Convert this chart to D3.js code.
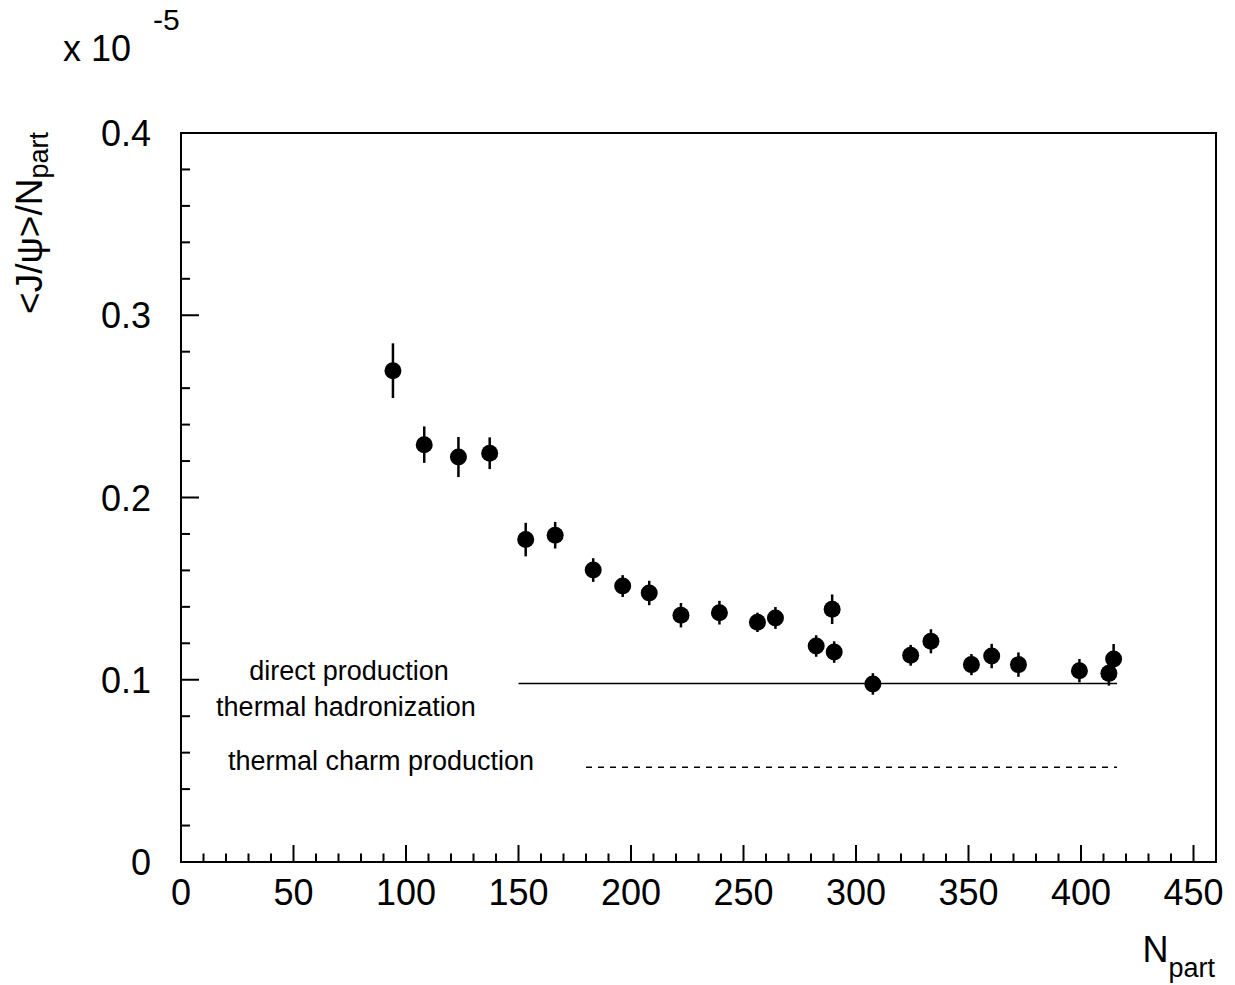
<!DOCTYPE html>
<html>
<head>
<meta charset="utf-8">
<script src="https://cdn.jsdelivr.net/npm/d3@7"></script>
<style>
  body { margin: 0; background: #fff; }
  svg { display: block; font-family: "Liberation Sans", Arial, sans-serif; }
</style>
</head>
<body>
<svg width="1235" height="985"></svg>
<script>
// J/psi yield per participant (units of 1e-5) vs N_part
var npart = [94.2, 108.1, 123.3, 137.2, 153.2, 166.3, 183.2, 196.3, 208.1, 222.2, 239.3, 256.2,
             264.2, 282.3, 289.4, 290.3, 307.5, 324.3, 333.3, 351.3, 360.3, 372.2, 399.3, 412.4, 414.5];
var yieldVals = [0.2696, 0.229, 0.2222, 0.2243, 0.1769, 0.1793, 0.1602, 0.1514, 0.1476, 0.1354, 0.1368, 0.1315,
                 0.1339, 0.1185, 0.1387, 0.1152, 0.0977, 0.1134, 0.1211, 0.1083, 0.113, 0.1083, 0.105, 0.1035, 0.1114];
var yieldErr = [0.015, 0.010, 0.011, 0.0087, 0.0092, 0.0073, 0.0065, 0.006, 0.0067, 0.0067, 0.0065, 0.0053,
                0.006, 0.0059, 0.0081, 0.0059, 0.0059, 0.0057, 0.0066, 0.0058, 0.0067, 0.0067, 0.0064, 0.0067, 0.0082];

// model curves (flat lines)
var directLine = [[150, 0.098], [416, 0.098]];
var thermalLine = [[180, 0.052], [416, 0.052]];

var xTicks = [0, 50, 100, 150, 200, 250, 300, 350, 400, 450];
var yTicks = [0, 0.1, 0.2, 0.3, 0.4];
var yTickLabels = ["0", "0.1", "0.2", "0.3", "0.4"];

var svg = d3.select("svg");

var x = d3.scaleLinear().domain([0, 460]).range([181, 1216]);
var y = d3.scaleLinear().domain([0, 0.4]).range([862, 133]);

// frame
svg.append("rect")
    .attr("x", x(0)).attr("y", y(0.4))
    .attr("width", x(460) - x(0)).attr("height", y(0) - y(0.4))
    .attr("fill", "none").attr("stroke", "#000").attr("stroke-width", 2);

// x axis: ticks drawn inward
var xMinor = d3.range(0, 461, 10);
svg.append("g").selectAll("line").data(xMinor).enter().append("line")
    .attr("x1", function (d) { return x(d); })
    .attr("x2", function (d) { return x(d); })
    .attr("y1", y(0))
    .attr("y2", function (d) { return d % 50 === 0 ? y(0) - 17 : y(0) - 8.5; })
    .attr("stroke", "#000").attr("stroke-width", 2);

svg.append("g").selectAll("text").data(xTicks).enter().append("text")
    .attr("x", function (d) { return x(d); })
    .attr("y", 905)
    .attr("text-anchor", "middle")
    .attr("font-size", 36)
    .text(function (d) { return d; });

// y axis
var yMinor = d3.range(0, 21).map(function (i) { return i * 0.02; });
svg.append("g").selectAll("line").data(yMinor).enter().append("line")
    .attr("x1", x(0))
    .attr("x2", function (d, i) { return i % 5 === 0 ? x(0) + 18 : x(0) + 9; })
    .attr("y1", function (d) { return y(d); })
    .attr("y2", function (d) { return y(d); })
    .attr("stroke", "#000").attr("stroke-width", 2);

svg.append("g").selectAll("text").data(yTicks).enter().append("text")
    .attr("x", 151)
    .attr("y", function (d) { return y(d) + 13; })
    .attr("text-anchor", "end")
    .attr("font-size", 36)
    .text(function (d, i) { return yTickLabels[i]; });

// exponent label
var expo = svg.append("text").attr("x", 63).attr("y", 61).attr("font-size", 36);
expo.append("tspan").text("x 10");
expo.append("tspan").attr("x", 153).attr("y", 30).attr("font-size", 30).text("-5");

// axis titles
var xt = svg.append("text")
    .attr("x", 1215).attr("y", 962)
    .attr("text-anchor", "end")
    .attr("font-size", 36);
xt.append("tspan").text("N");
xt.append("tspan").attr("dy", 15).attr("font-size", 27).text("part");

var yt = svg.append("text")
    .attr("transform", "translate(42,132) rotate(-90)")
    .attr("text-anchor", "end")
    .attr("font-size", 37);
yt.append("tspan").text("<J/\u03c8>/N");
yt.append("tspan").attr("dy", 6).attr("font-size", 27).text("part");

// model lines
var line = d3.line()
    .x(function (d) { return x(d[0]); })
    .y(function (d) { return y(d[1]); });

svg.append("path").datum(directLine)
    .attr("d", line)
    .attr("fill", "none").attr("stroke", "#000").attr("stroke-width", 1.5);

svg.append("path").datum(thermalLine)
    .attr("d", line)
    .attr("fill", "none").attr("stroke", "#000").attr("stroke-width", 1.3)
    .attr("stroke-dasharray", "6,6");

// annotations
svg.append("text").attr("x", x(74.7)).attr("y", 680)
    .attr("text-anchor", "middle").attr("font-size", 27).text("direct production");
svg.append("text").attr("x", x(73.3)).attr("y", 715.5)
    .attr("text-anchor", "middle").attr("font-size", 27).text("thermal hadronization");
svg.append("text").attr("x", x(88.9)).attr("y", 770)
    .attr("text-anchor", "middle").attr("font-size", 27).text("thermal charm production");

// data points with error bars
var pts = npart.map(function (d, i) {
    return {x: d, y: yieldVals[i], e: yieldErr[i]};
});

svg.append("g").selectAll("line").data(pts).enter().append("line")
    .attr("x1", function (d) { return x(d.x); })
    .attr("x2", function (d) { return x(d.x); })
    .attr("y1", function (d) { return y(d.y - d.e); })
    .attr("y2", function (d) { return y(d.y + d.e); })
    .attr("stroke", "#000").attr("stroke-width", 2.5);

svg.append("g").selectAll("circle").data(pts).enter().append("circle")
    .attr("cx", function (d) { return x(d.x); })
    .attr("cy", function (d) { return y(d.y); })
    .attr("r", 8.5)
    .attr("fill", "#000");
</script>
</body>
</html>
